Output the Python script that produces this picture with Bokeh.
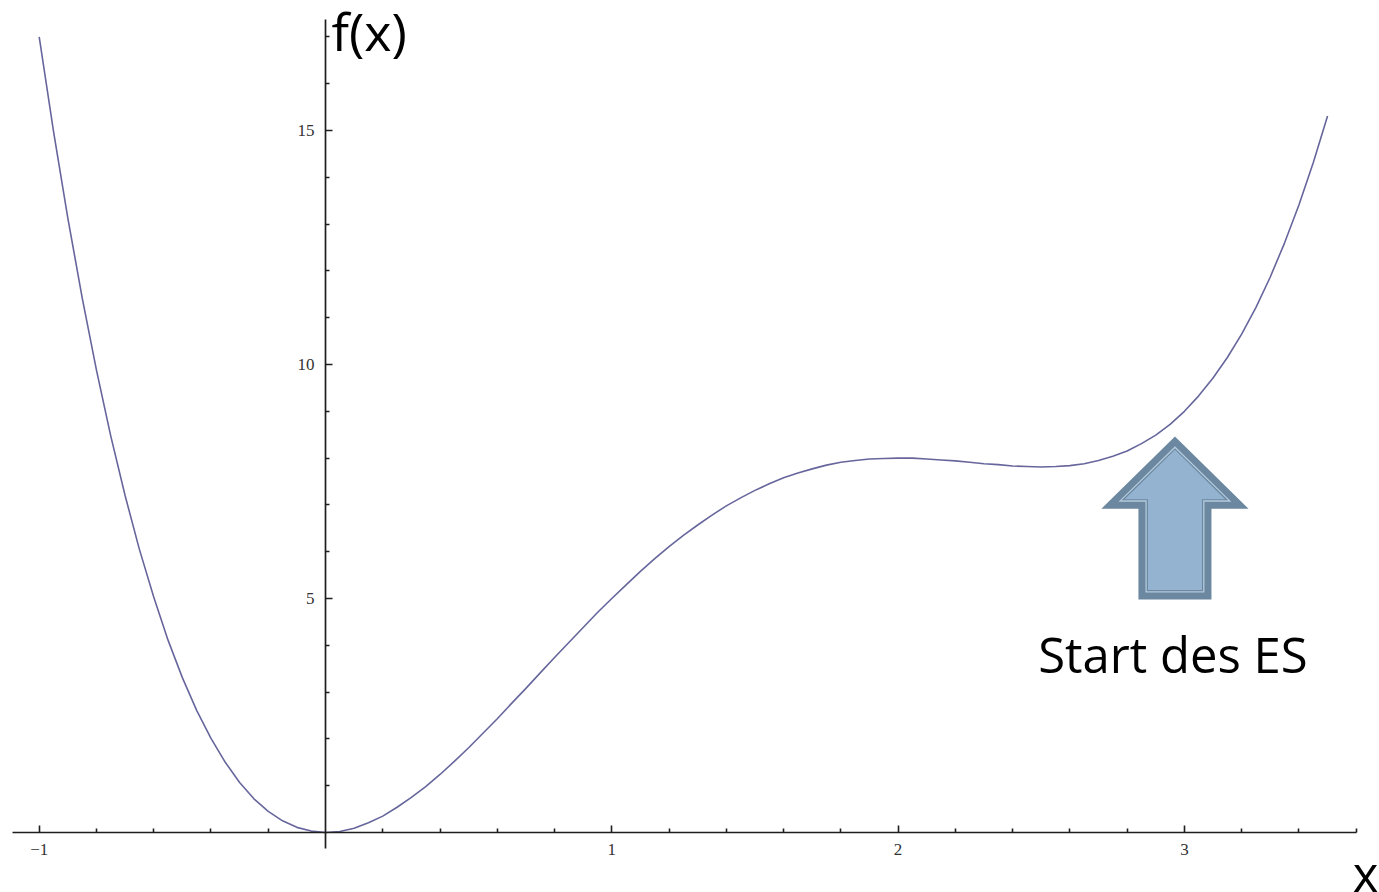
from math import hypot
from bokeh.plotting import figure
from bokeh.models import Range1d, LinearAxis, FixedTicker, Label, ColumnDataSource
from bokeh.embed import file_html
from bokeh.resources import INLINE

# ---- data ----
x_vals = [-1.0, -0.95, -0.9, -0.85, -0.8, -0.75, -0.7, -0.65, -0.6, -0.55,
          -0.5, -0.45, -0.4, -0.35, -0.3, -0.25, -0.2, -0.15, -0.1, -0.05,
          0.0, 0.05, 0.1, 0.15, 0.2, 0.25, 0.3, 0.35, 0.4, 0.45,
          0.5, 0.55, 0.6, 0.65, 0.7, 0.75, 0.8, 0.85, 0.9, 0.95,
          1.0, 1.05, 1.1, 1.15, 1.2, 1.25, 1.3, 1.35, 1.4, 1.45,
          1.5, 1.55, 1.6, 1.65, 1.7, 1.75, 1.8, 1.85, 1.9, 1.95,
          2.0, 2.05, 2.1, 2.15, 2.2, 2.25, 2.3, 2.35, 2.4, 2.45,
          2.5, 2.55, 2.6, 2.65, 2.7, 2.75, 2.8, 2.85, 2.9, 2.95,
          3.0, 3.05, 3.1, 3.15, 3.2, 3.25, 3.3, 3.35, 3.4, 3.45, 3.5]
f_vals = [17.00, 14.98, 13.13, 11.43, 9.88, 8.47, 7.20, 6.05, 5.03, 4.11,
          3.31, 2.61, 2.01, 1.50, 1.07, 0.72, 0.45, 0.25, 0.11, 0.03,
          0.00, 0.02, 0.09, 0.21, 0.35, 0.54, 0.75, 0.98, 1.24, 1.52,
          1.81, 2.12, 2.43, 2.76, 3.08, 3.41, 3.74, 4.06, 4.38, 4.70,
          5.00, 5.29, 5.58, 5.85, 6.11, 6.35, 6.57, 6.78, 6.98, 7.15,
          7.31, 7.45, 7.58, 7.68, 7.77, 7.85, 7.91, 7.95, 7.98, 7.99,
          8.00, 8.00, 7.98, 7.96, 7.94, 7.91, 7.88, 7.86, 7.83, 7.82,
          7.81, 7.82, 7.84, 7.88, 7.95, 8.04, 8.15, 8.31, 8.49, 8.72,
          9.00, 9.33, 9.71, 10.15, 10.65, 11.22, 11.87, 12.60, 13.41, 14.31, 15.31]

x_major = [-1, 1, 2, 3]
x_minor = [-0.8, -0.6, -0.4, -0.2, 0.2, 0.4, 0.6, 0.8, 1.2, 1.4, 1.6, 1.8,
           2.2, 2.4, 2.6, 2.8, 3.2, 3.4, 3.6]
y_major = [5, 10, 15]
y_minor = [1, 2, 3, 4, 6, 7, 8, 9, 11, 12, 13, 14, 16, 17]
x_tick_labels = {-1: "\u22121", 1: "1", 2: "2", 3: "3"}

annotation_text = "Start des ES"
arrow_x = 2.967          # arrow centre
arrow_tip = 8.46
arrow_head_base = 6.92
arrow_bottom = 4.98
arrow_head_halfwidth = 0.257
arrow_shaft_halfwidth = 0.1275

# ---- layout ----
W, H = 1379, 892
SX, SY = 286.3, 46.8           # pixels per unit
X0_PX, Y0_PX = 325, 832        # position of the origin
XMIN = -X0_PX / SX
XMAX = XMIN + W / SX
YMAX = Y0_PX / SY
YMIN = YMAX - H / SY
X_AXIS_BOUNDS = (-1.0933, 3.601)
Y_AXIS_BOUNDS = (-0.342, 17.37)

p = figure(width=W, height=H, x_range=Range1d(XMIN, XMAX), y_range=Range1d(YMIN, YMAX),
           output_backend="svg", toolbar_location=None,
           x_axis_location=None, y_axis_location=None,
           min_border_left=0, min_border_right=0, min_border_top=0, min_border_bottom=0)
p.grid.grid_line_color = None
p.outline_line_color = None
p.background_fill_color = "white"
p.border_fill_color = "white"

tick_font = "Liberation Serif"
axis_style = dict(axis_line_color="#1e1e1e", axis_line_width=1.7,
                  major_tick_in=7, major_tick_out=0, major_tick_line_color="#1e1e1e",
                  major_tick_line_width=1.6,
                  minor_tick_in=4, minor_tick_out=0, minor_tick_line_color="#1e1e1e",
                  minor_tick_line_width=1.6,
                  major_label_text_font=tick_font, major_label_text_font_size="17px",
                  major_label_text_color="#333333")
xaxis = LinearAxis(fixed_location=0, bounds=X_AXIS_BOUNDS,
                   ticker=FixedTicker(ticks=x_major, minor_ticks=x_minor),
                   major_label_overrides=x_tick_labels, major_label_standoff=11,
                   **axis_style)
yaxis = LinearAxis(fixed_location=0, bounds=Y_AXIS_BOUNDS,
                   ticker=FixedTicker(ticks=y_major, minor_ticks=y_minor),
                   major_label_standoff=11, **axis_style)
p.add_layout(xaxis, "below")
p.add_layout(yaxis, "left")

src = ColumnDataSource(dict(x=x_vals, y=f_vals))
p.line("x", "y", source=src, line_color="#66669c", line_width=1.6, line_join="round")

# ---- block arrow ----
c = arrow_x
outer_xs = [c, c - arrow_head_halfwidth, c - arrow_shaft_halfwidth, c - arrow_shaft_halfwidth,
            c + arrow_shaft_halfwidth, c + arrow_shaft_halfwidth, c + arrow_head_halfwidth]
outer_ys = [arrow_tip, arrow_head_base, arrow_head_base, arrow_bottom,
            arrow_bottom, arrow_head_base, arrow_head_base]


def inset(xs, ys, d):
    pts = [(x * SX, y * SY) for x, y in zip(xs, ys)]
    n = len(pts)
    lines = []
    for i in range(n):
        (x1, y1), (x2, y2) = pts[i], pts[(i + 1) % n]
        dx, dy = x2 - x1, y2 - y1
        L = hypot(dx, dy)
        nx, ny = -dy / L, dx / L
        lines.append(((x1 + nx * d, y1 + ny * d), (dx, dy)))
    out = []
    for i in range(n):
        (p1, d1) = lines[i - 1]
        (p2, d2) = lines[i]
        cross = d1[0] * d2[1] - d1[1] * d2[0]
        t = ((p2[0] - p1[0]) * d2[1] - (p2[1] - p1[1]) * d2[0]) / cross
        out.append((p1[0] + t * d1[0], p1[1] + t * d1[1]))
    return [x / SX for x, _ in out], [y / SY for _, y in out]


dark = "#6b88a0"
p.patch(outer_xs, outer_ys, fill_color=dark, line_color=None)
ix, iy = inset(outer_xs, outer_ys, 7)
p.patch(ix, iy, fill_color="#b4cadd", line_color=None)
ix, iy = inset(outer_xs, outer_ys, 8.3)
p.patch(ix, iy, fill_color=dark, line_color=None)
ix, iy = inset(outer_xs, outer_ys, 9.5)
p.patch(ix, iy, fill_color="#93b3d0", line_color=None)

# ---- texts ----
txt_font = "Open Sans"
p.add_layout(Label(x=0.021, y=17.14, text="f(x)", text_font=txt_font, text_font_size="52px",
                   text_color="black", text_baseline="alphabetic", text_align="left"))
p.add_layout(Label(x=2.960, y=3.81, text=annotation_text, text_font=txt_font,
                   text_font_size="49px", text_color="black",
                   text_baseline="alphabetic", text_align="center"))
p.add_layout(Label(x=3.588, y=-0.86, text="x", text_font=txt_font, text_font_size="49px",
                   text_color="black", text_baseline="alphabetic", text_align="left"))

open("out.html", "w").write(file_html(p, INLINE))
